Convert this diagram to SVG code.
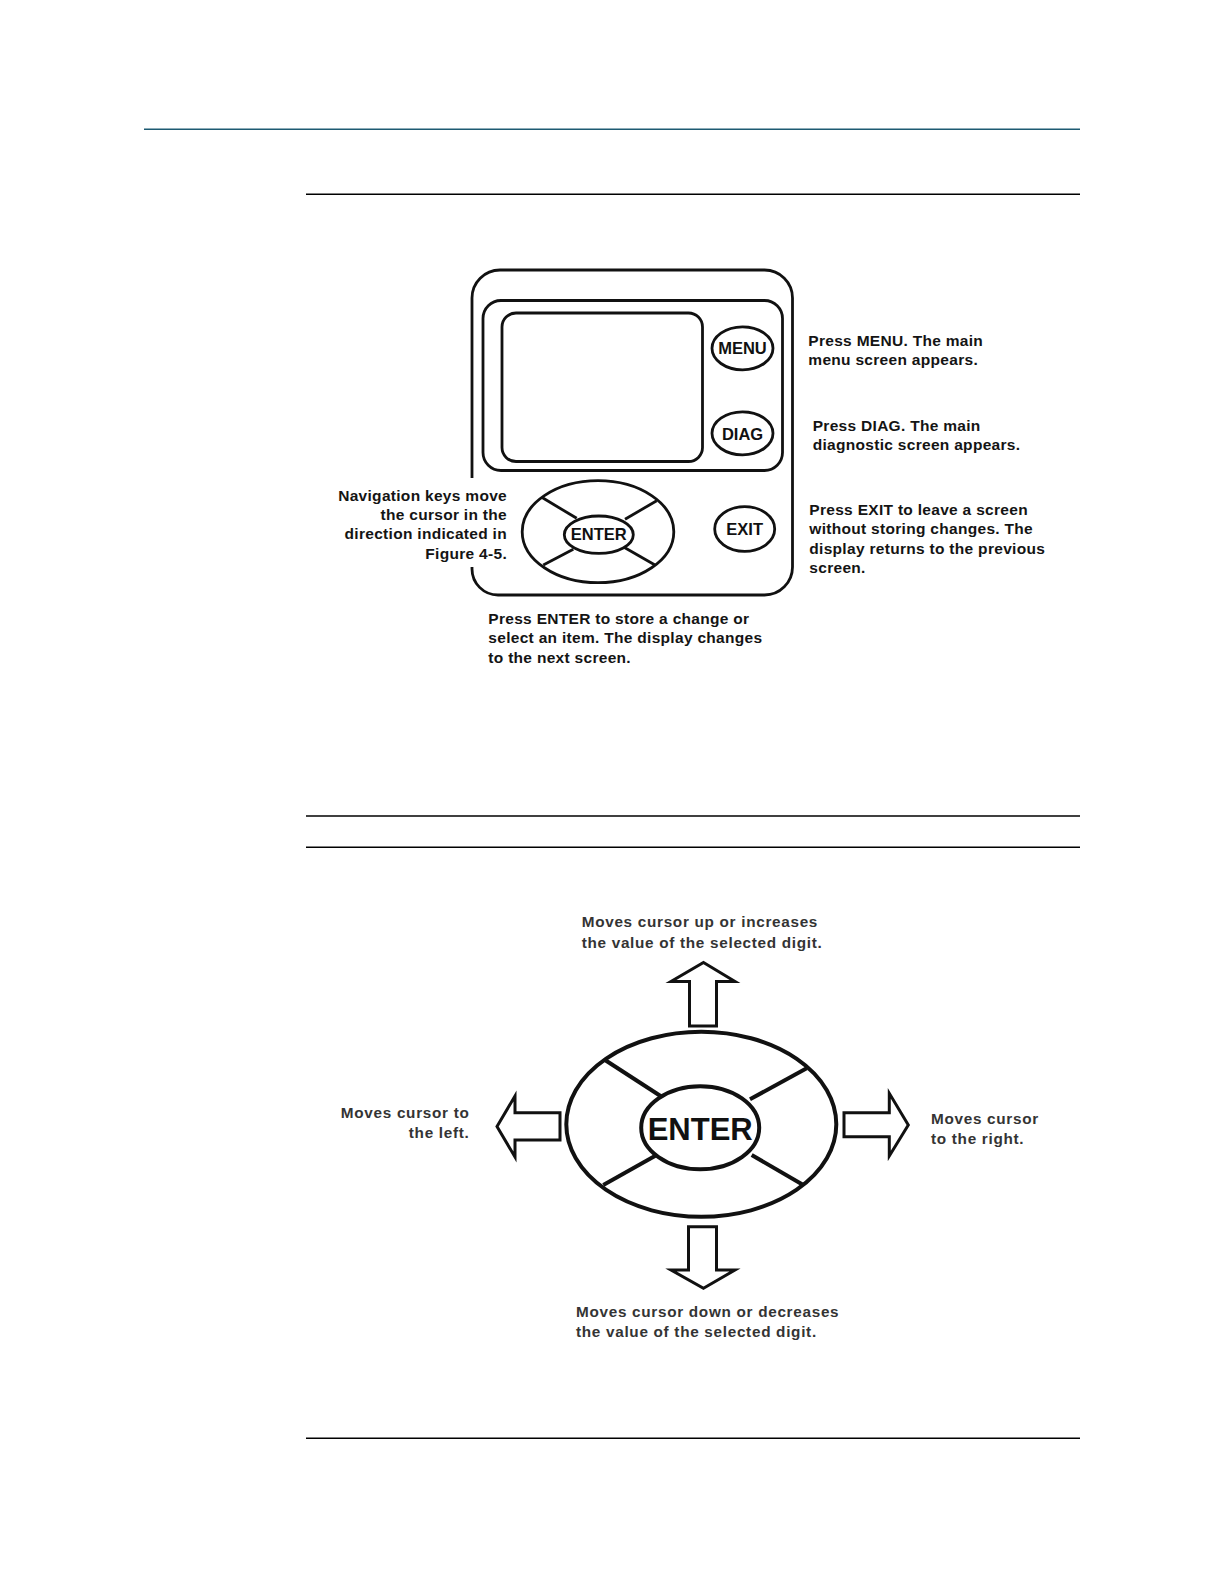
<svg xmlns="http://www.w3.org/2000/svg" width="1224" height="1584" viewBox="0 0 1224 1584">
<style>
.ln{fill:none;stroke:#111;stroke-width:2.8}
.thick{fill:none;stroke:#111;stroke-width:4}
.arr{fill:#fff;stroke:#111;stroke-width:3;stroke-linejoin:miter}
.t1{font-family:"Liberation Sans",Arial,sans-serif;font-weight:bold;font-size:15.5px;letter-spacing:0.3px;fill:#141414}
.t2{font-family:"Liberation Sans",Arial,sans-serif;font-weight:bold;font-size:15.3px;letter-spacing:0.7px;fill:#343434}
.btn{font-family:"Liberation Sans",Arial,sans-serif;font-weight:bold;font-size:16.5px;fill:#111;text-anchor:middle}
.rule{stroke:#000;stroke-width:1.4}
</style>
<rect width="1224" height="1584" fill="#fff"/>
<g id="rules">
<line x1="144" y1="129.3" x2="1080" y2="129.3" stroke="#1d5a72" stroke-width="1.6"/>
<line class="rule" x1="306" y1="194.3" x2="1080" y2="194.3"/>
<line class="rule" x1="306" y1="816" x2="1080" y2="816"/>
<line class="rule" x1="306" y1="847.3" x2="1080" y2="847.3"/>
<line class="rule" x1="306" y1="1438.3" x2="1080" y2="1438.3"/>
</g>
<g id="device">
<path class="ln" d="M472 478 L472 298 A28 28 0 0 1 500 270 L764.5 270 A28 28 0 0 1 792.5 298 L792.5 567 A28 28 0 0 1 764.5 595 L498 595 A26 26 0 0 1 472 569 L472 567"/>
<rect class="ln" x="483" y="300.5" width="299.5" height="170" rx="18"/>
<rect id="screen" class="ln" x="502" y="313" width="200.5" height="148.5" rx="14"/>
</g>
<g id="btn-menu">
<ellipse class="ln" cx="742.5" cy="348.3" rx="30.5" ry="21.5"/>
<text class="btn" x="742.5" y="354.3">MENU</text>
</g>
<g id="btn-diag">
<ellipse class="ln" cx="742.5" cy="433.3" rx="30.5" ry="21.5"/>
<text class="btn" x="742.5" y="440">DIAG</text>
</g>
<g id="btn-exit">
<ellipse class="ln" cx="744.7" cy="529" rx="30" ry="22.3"/>
<text class="btn" x="744.7" y="535">EXIT</text>
</g>
<g id="nav-pad">
<ellipse class="ln" cx="598" cy="531.7" rx="75.8" ry="51"/>
<ellipse class="ln" cx="598.8" cy="534.7" rx="34.5" ry="18.7"/>
<line class="ln" x1="541.7" y1="497.3" x2="576.7" y2="518.3"/>
<line class="ln" x1="656.7" y1="500.7" x2="625" y2="519.3"/>
<line class="ln" x1="543.3" y1="565" x2="573.3" y2="549.3"/>
<line class="ln" x1="655" y1="565" x2="624" y2="547.3"/>
<text class="btn" x="598.8" y="540.3">ENTER</text>
</g>
<g id="label-nav" class="t1" text-anchor="end">
<text x="507" y="500.5">Navigation keys move</text>
<text x="507" y="520">the cursor in the</text>
<text x="507" y="539.3">direction indicated in</text>
<text x="507" y="558.7">Figure 4-5.</text>
</g>
<g id="label-menu" class="t1">
<text x="808.3" y="345.8">Press MENU. The main</text>
<text x="808.3" y="365.2">menu screen appears.</text>
</g>
<g id="label-diag" class="t1">
<text x="812.7" y="430.7">Press DIAG. The main</text>
<text x="812.7" y="450">diagnostic screen appears.</text>
</g>
<g id="label-exit" class="t1">
<text x="809.3" y="515">Press EXIT to leave a screen</text>
<text x="809.3" y="534.3">without storing changes. The</text>
<text x="809.3" y="553.6">display returns to the previous</text>
<text x="809.3" y="573">screen.</text>
</g>
<g id="label-enter" class="t1">
<text x="488.3" y="623.8">Press ENTER to store a change or</text>
<text x="488.3" y="643.2">select an item. The display changes</text>
<text x="488.3" y="662.6">to the next screen.</text>
</g>
<g id="keypad-large">
<ellipse class="thick" cx="701.3" cy="1124.3" rx="135" ry="92.5"/>
<ellipse class="thick" cx="700.2" cy="1127.7" rx="59" ry="41.5"/>
<line class="thick" x1="605" y1="1060" x2="661.7" y2="1096.7"/>
<line class="thick" x1="806.7" y1="1068.3" x2="750" y2="1099.3"/>
<line class="thick" x1="603.3" y1="1185" x2="656.7" y2="1155"/>
<line class="thick" x1="803.3" y1="1185" x2="751.7" y2="1155"/>
<text x="700.2" y="1140" font-family="'Liberation Sans',Arial,sans-serif" font-weight="bold" font-size="31" text-anchor="middle" fill="#111">ENTER</text>
</g>
<g id="connectors">
<polygon id="arrow-up" class="arr" points="703.5,962.5 735,981.5 716.5,981.5 716.5,1026 689.5,1026 689.5,981.5 671,981.5"/>
<polygon id="arrow-down" class="arr" points="703.5,1288.3 735,1270 716.5,1270 716.5,1226.7 688.5,1226.7 688.5,1270 671,1270"/>
<polygon id="arrow-left" class="arr" points="497,1126.5 515,1096 515,1112.7 560,1112.7 560,1140 515,1140 515,1157"/>
<polygon id="arrow-right" class="arr" points="908.3,1125 889.3,1093.3 889.3,1112.7 844,1112.7 844,1136.7 889.3,1136.7 889.3,1156"/>
</g>
<g id="label-up" class="t2">
<text x="581.7" y="927">Moves cursor up or increases</text>
<text x="581.7" y="948">the value of the selected digit.</text>
</g>
<g id="label-left" class="t2" text-anchor="end">
<text x="469.5" y="1118.3">Moves cursor to</text>
<text x="469.5" y="1137.7">the left.</text>
</g>
<g id="label-right" class="t2">
<text x="931" y="1124.3">Moves cursor</text>
<text x="931" y="1143.5">to the right.</text>
</g>
<g id="label-down" class="t2">
<text x="576" y="1316.7">Moves cursor down or decreases</text>
<text x="576" y="1336.7">the value of the selected digit.</text>
</g>
</svg>
